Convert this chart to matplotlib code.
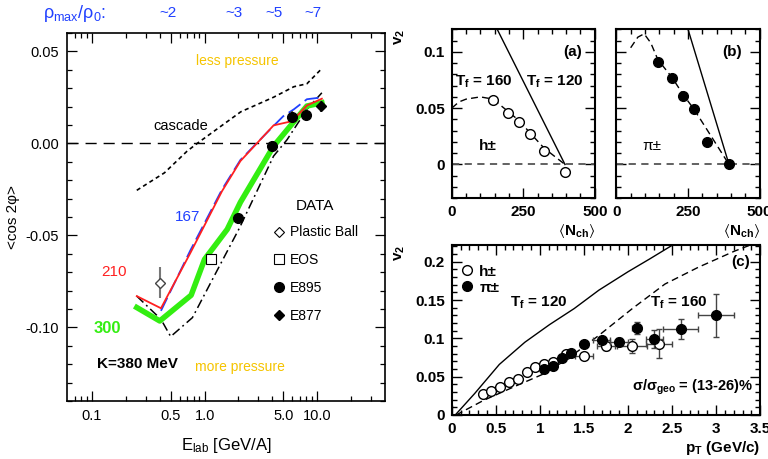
import matplotlib
matplotlib.use('Agg')
import matplotlib.pyplot as plt
from matplotlib.lines import Line2D
from matplotlib.ticker import MultipleLocator, NullFormatter, FuncFormatter

plt.rcParams['font.family'] = ['Liberation Sans', 'DejaVu Sans']
plt.rcParams['mathtext.fontset'] = 'custom'
plt.rcParams['mathtext.rm'] = 'Liberation Sans'
plt.rcParams['mathtext.it'] = 'Liberation Sans:italic'
plt.rcParams['mathtext.bf'] = 'Liberation Sans:bold'
plt.rcParams['mathtext.default'] = 'regular'
plt.rcParams['axes.unicode_minus'] = False

# ---- left panel: <cos 2phi> vs E_lab ----
E_casc = [0.25, 0.44, 0.70, 0.86, 2.1, 4.1, 6.2, 8.1, 11.0]
v_casc = [-0.0255, -0.016, -0.0042, 0.0, 0.0172, 0.0251, 0.0308, 0.0324, 0.0407]

E_210 = [0.25, 0.41, 0.75, 1.43, 2.08, 4.1, 6.0, 8.1, 11.0]
v_210 = [-0.083, -0.0896, -0.0594, -0.0259, -0.0096, 0.0098, 0.0121, 0.0206, 0.0243]

E_167 = [0.41, 0.75, 1.43, 2.08, 4.1, 5.0, 6.2, 8.1, 11.0]
v_167 = [-0.091, -0.058, -0.025, -0.009, 0.0095, 0.0148, 0.0185, 0.024, 0.025]

E_300 = [0.25, 0.40, 0.76, 1.0, 1.59, 2.08, 4.1, 8.1, 11.0]
v_300 = [-0.0892, -0.0965, -0.0825, -0.063, -0.0467, -0.032, -0.0015, 0.0203, 0.0221]

E_dd = [0.25, 0.41, 0.50, 0.78, 1.21, 2.04, 4.1, 5.4, 8.1, 11.0]
v_dd = [-0.083, -0.0956, -0.105, -0.0947, -0.0724, -0.046, -0.0069, 0.002, 0.0185, 0.0275]

E_pb, v_pb, err_pb = [0.4], [-0.0757], [0.0084]
E_eos, v_eos = [1.15], [-0.0626]
E_e895 = [2.0, 4.0, 6.0, 8.0]
v_e895 = [-0.0407, -0.0015, 0.0145, 0.0157]
err_e895 = [0.003, 0.003, 0.003, 0.003]
E_e877, v_e877, err_e877 = [10.8], [0.0203], [0.003]

rho_E = [0.47, 1.84, 4.16, 9.2]
rho_lab = ['~2', '~3', '~5', '~7']

# ---- right panels: v2 vs <N_ch> ----
N_curve_a = [0, 25, 50, 100, 145, 197, 235, 274, 323, 396]
v_curve_a = [0.05, 0.0555, 0.058, 0.060, 0.058, 0.047, 0.039, 0.028, 0.0145, 0.0]
N_line_a = [159, 396]
v_line_a = [0.12, 0.0]
N_h = [145, 197, 235, 274, 323, 395]
v_h = [0.0575, 0.0455, 0.038, 0.0268, 0.0119, -0.0071]

N_curve_b = [50, 75, 97, 120, 145, 195, 233, 271, 317, 393]
v_curve_b = [0.1036, 0.113, 0.116, 0.108, 0.093, 0.077, 0.062, 0.049, 0.0306, 0.0]
N_line_b = [250, 393]
v_line_b = [0.12, 0.0]
N_pi = [145, 195, 233, 271, 317, 393]
v_pi = [0.0913, 0.0768, 0.0604, 0.0491, 0.0202, 0.0]

# ---- panel (c): v2 vs pT ----
pt_120 = [0.04, 0.26, 0.54, 0.83, 1.11, 1.39, 1.67, 2.0, 2.25, 2.55]
v_120 = [0.0, 0.028, 0.066, 0.095, 0.118, 0.139, 0.163, 0.187, 0.204, 0.225]
pt_160 = [0.05, 0.36, 0.73, 1.03, 1.30, 1.67, 2.05, 2.42, 2.80, 3.21, 3.48]
v_160 = [0.0, 0.019, 0.038, 0.053, 0.072, 0.104, 0.139, 0.171, 0.193, 0.214, 0.226]

pt_h = [0.35, 0.45, 0.55, 0.65, 0.75, 0.85, 0.95, 1.05, 1.15, 1.3, 1.5, 1.75, 2.05, 2.35]
v2_h = [0.0275, 0.0318, 0.0361, 0.0436, 0.047, 0.0558, 0.0623, 0.0667, 0.0698, 0.0798,
        0.0776, 0.0905, 0.090, 0.093]
v2_h_err = [0, 0, 0, 0, 0, 0, 0, 0, 0, 0.002, 0.003, 0.005, 0.0095, 0.019]
pt_h_err = [0, 0, 0, 0, 0, 0, 0, 0, 0, 0.05, 0.1, 0.1, 0.17, 0.15]

pt_pi = [1.05, 1.15, 1.25, 1.35, 1.5, 1.7, 1.9, 2.1, 2.3, 2.6, 3.0]
v2_pi = [0.0602, 0.0636, 0.0741, 0.0806, 0.0924, 0.0975, 0.095, 0.114, 0.0995, 0.1117, 0.130]
v2_pi_err = [0.003, 0.003, 0.003, 0.003, 0.003, 0.003, 0.005, 0.008, 0.012, 0.013, 0.028]
pt_pi_err = [0, 0, 0, 0, 0.05, 0.1, 0.1, 0.05, 0.1, 0.2, 0.2]

red = '#ff2020'
blue = '#2040ff'
green = '#33ee11'
gold = '#f5c400'

fig = plt.figure(figsize=(7.68, 4.59), dpi=100)
ax = fig.add_axes([0.0872, 0.1264, 0.4141, 0.8017])
axa = fig.add_axes([0.5882, 0.5680, 0.1862, 0.3682])
axb = fig.add_axes([0.8025, 0.5680, 0.1867, 0.3682])
axc = fig.add_axes([0.5882, 0.0959, 0.4016, 0.3704])

# left panel
ax.set_xscale('log')
ax.set_xlim(0.06, 40)
ax.set_ylim(-0.14, 0.06)
ax.axhline(0, color='k', lw=1, ls=(0, (8, 5)))
ax.plot(E_casc, v_casc, color='k', ls=(0, (2.5, 2)), lw=1.2)
ax.plot(E_dd, v_dd, color='k', ls=(0, (6, 2.5, 1.2, 2.5)), lw=1.1)
ax.plot(E_300, v_300, color=green, lw=4)
ax.plot(E_167, v_167, color=blue, ls=(0, (8, 3)), lw=1.3)
ax.plot(E_210, v_210, color=red, lw=1.3)

ax.errorbar(E_pb, v_pb, yerr=err_pb, fmt='D', mfc='white', mec='#444', ecolor='#777',
            ms=5, mew=1, elinewidth=1.5, capsize=0)
ax.plot(E_eos, v_eos, 's', mfc='white', mec='k', ms=7, mew=0.8)
ax.errorbar(E_e895, v_e895, yerr=err_e895, fmt='o', color='k', ms=7, ecolor='#555', capsize=0)
ax.errorbar(E_e877, v_e877, yerr=err_e877, fmt='D', color='k', ms=5, ecolor='#555', capsize=0)

handles = [Line2D([], [], ls='', marker='D', mfc='white', mec='k', ms=5, mew=0.8),
           Line2D([], [], ls='', marker='s', mfc='white', mec='k', ms=7, mew=0.8),
           Line2D([], [], ls='', marker='o', color='k', ms=7),
           Line2D([], [], ls='', marker='D', color='k', ms=5)]
leg = ax.legend(handles, ['Plastic Ball', 'EOS', 'E895', 'E877'], title='DATA',
                loc='upper left', bbox_to_anchor=(0.622, 0.568), frameon=False,
                fontsize=10, title_fontsize=11, labelspacing=1.0, handletextpad=0.3,
                handlelength=1.0, borderpad=0)
leg._legend_box.sep = 9

ax.text(1.95, 0.0447, 'less pressure', color=gold, fontsize=10, ha='center', va='center')
ax.text(2.08, -0.1216, 'more pressure', color=gold, fontsize=10, ha='center', va='center')
ax.text(0.61, 0.0094, 'cascade', fontsize=10.5, ha='center', va='center')
ax.text(0.70, -0.040, '167', color=blue, fontsize=11, ha='center', va='center')
ax.text(0.156, -0.070, '210', color=red, fontsize=11, ha='center', va='center')
ax.text(0.136, -0.1005, '300', color=green, fontsize=12, fontweight='bold', ha='center', va='center')
ax.text(0.255, -0.120, 'K=380 MeV', fontsize=11, fontweight='bold', ha='center', va='center')

top = ax.get_xaxis_transform()
for e, lab in zip(rho_E, rho_lab):
    ax.text(e, 1.054, lab, transform=top, color=blue, fontsize=11, ha='center', va='center')
fig.text(0.056, 0.970, r'$\rho_{max}/\rho_0$:', color=blue, fontsize=13, ha='left', va='center')

ax.set_xticks([0.1, 0.5, 1, 5, 10], ['0.1', '0.5', '1.0', '5.0', '10.0'])
ax.set_xticks([0.07, 0.08, 0.09, 0.2, 0.3, 0.4, 0.6, 0.7, 0.8, 0.9, 2, 3, 4, 6, 7, 8, 9, 20, 30],
              minor=True)
ax.xaxis.set_minor_formatter(NullFormatter())
ax.set_yticks([-0.10, -0.05, 0.0, 0.05], ['-0.10', '-0.05', '0.00', '0.05'])
ax.yaxis.set_minor_locator(MultipleLocator(0.01))
ax.tick_params(which='both', direction='in', top=True, right=True, labelsize=10.5, width=0.9)
ax.tick_params(which='major', length=7, pad=6)
ax.tick_params(which='minor', length=3.5)
ax.set_ylabel('<cos 2φ>', fontsize=11, labelpad=4)
ax.set_xlabel(r'E$_{lab}$ [GeV/A]', fontsize=12, labelpad=9)
for s in ax.spines.values():
    s.set_linewidth(1.2)

# panels (a) and (b)
for a in (axa, axb):
    a.set_xlim(0, 500)
    a.set_ylim(-0.03, 0.12)
    a.axhline(0, color='#555', ls=(0, (4, 3)), lw=1.3)
    a.xaxis.set_major_locator(MultipleLocator(250))
    a.xaxis.set_minor_locator(MultipleLocator(50))
    a.yaxis.set_major_locator(MultipleLocator(0.05))
    a.yaxis.set_minor_locator(MultipleLocator(0.01))
    a.set_xlabel(r'$\langle$N$_{ch}$$\rangle$', fontsize=11, fontweight='bold', loc='right', labelpad=2)

axa.plot(N_curve_a, v_curve_a, 'k', ls=(0, (5, 3)), lw=1)
axa.plot(N_line_a, v_line_a, 'k-', lw=1)
axa.plot(N_h, v_h, 'o', mfc='white', mec='k', ms=7, mew=1)
axb.plot(N_curve_b, v_curve_b, 'k', ls=(0, (5, 3)), lw=1)
axb.plot(N_line_b, v_line_b, 'k-', lw=1)
axb.plot(N_pi, v_pi, 'o', color='k', ms=7)

axa.text(421.7, 0.100, '(a)', fontsize=11, fontweight='bold', ha='center', va='center')
axa.text(113, 0.0738, r'T$_f$ = 160', fontsize=11, fontweight='bold', ha='center', va='center')
axa.text(360, 0.0738, r'T$_f$ = 120', fontsize=11, fontweight='bold', ha='center', va='center')
axa.text(124.5, 0.0166, 'h±', fontsize=11, fontweight='bold', ha='center', va='center')
axb.text(403, 0.100, '(b)', fontsize=11, fontweight='bold', ha='center', va='center')
axb.text(125.5, 0.0166, 'π±', fontsize=11, ha='center', va='center')
axa.set_ylabel(r'v$_2$', fontsize=11, fontweight='bold', loc='top', labelpad=6)
axb.tick_params(labelleft=False)

# panel (c)
axc.set_xlim(0, 3.5)
axc.set_ylim(0, 0.222)
axc.plot(pt_120, v_120, 'k-', lw=1)
axc.plot(pt_160, v_160, 'k', ls=(0, (5, 3)), lw=1)
axc.errorbar(pt_h, v2_h, yerr=v2_h_err, xerr=pt_h_err, fmt='o', mfc='white', mec='k',
             ms=7, mew=1, ecolor='#444', elinewidth=1, capsize=2.5, zorder=3)
axc.errorbar(pt_pi, v2_pi, yerr=v2_pi_err, xerr=pt_pi_err, fmt='o', color='k',
             ms=7, ecolor='#444', elinewidth=1, capsize=2.5, zorder=4)
hl = [Line2D([], [], ls='', marker='o', mfc='white', mec='k', ms=7, mew=1),
      Line2D([], [], ls='', marker='o', color='k', ms=7)]
axc.legend(hl, ['h±', 'π±'], loc='upper left', bbox_to_anchor=(0.0, 0.93), frameon=False,
           handletextpad=0.3, handlelength=1.0, labelspacing=0.15, borderpad=0,
           prop={'weight': 'bold', 'size': 11})
axc.text(3.28, 0.200, '(c)', fontsize=11, fontweight='bold', ha='center', va='center')
axc.text(0.99, 0.147, r'T$_f$ = 120', fontsize=11, fontweight='bold', ha='center', va='center')
axc.text(2.58, 0.147, r'T$_f$ = 160', fontsize=11, fontweight='bold', ha='center', va='center')
axc.text(2.73, 0.036, r'σ/σ$_{geo}$ = (13-26)%', fontsize=10.5, fontweight='bold',
         ha='center', va='center')
axc.xaxis.set_major_locator(MultipleLocator(0.5))
axc.xaxis.set_minor_locator(MultipleLocator(0.1))
axc.yaxis.set_major_locator(MultipleLocator(0.05))
axc.yaxis.set_minor_locator(MultipleLocator(0.01))
axc.set_xlabel(r'p$_T$ (GeV/c)', fontsize=11, fontweight='bold', loc='right', labelpad=2)
axc.set_ylabel(r'v$_2$', fontsize=11, fontweight='bold', loc='top', labelpad=6)

fmt = FuncFormatter(lambda v, p: '%g' % round(v, 3))
for a in (axa, axb, axc):
    a.xaxis.set_major_formatter(fmt)
    a.yaxis.set_major_formatter(fmt)
    a.tick_params(which='both', direction='in', top=True, right=True, labelsize=11, width=1)
    a.tick_params(which='major', length=7, pad=5)
    a.tick_params(which='minor', length=3.5)
    for lab in a.get_xticklabels() + a.get_yticklabels():
        lab.set_fontweight('bold')
    for s in a.spines.values():
        s.set_linewidth(1.5)

fig.savefig('out.png', dpi=100)
